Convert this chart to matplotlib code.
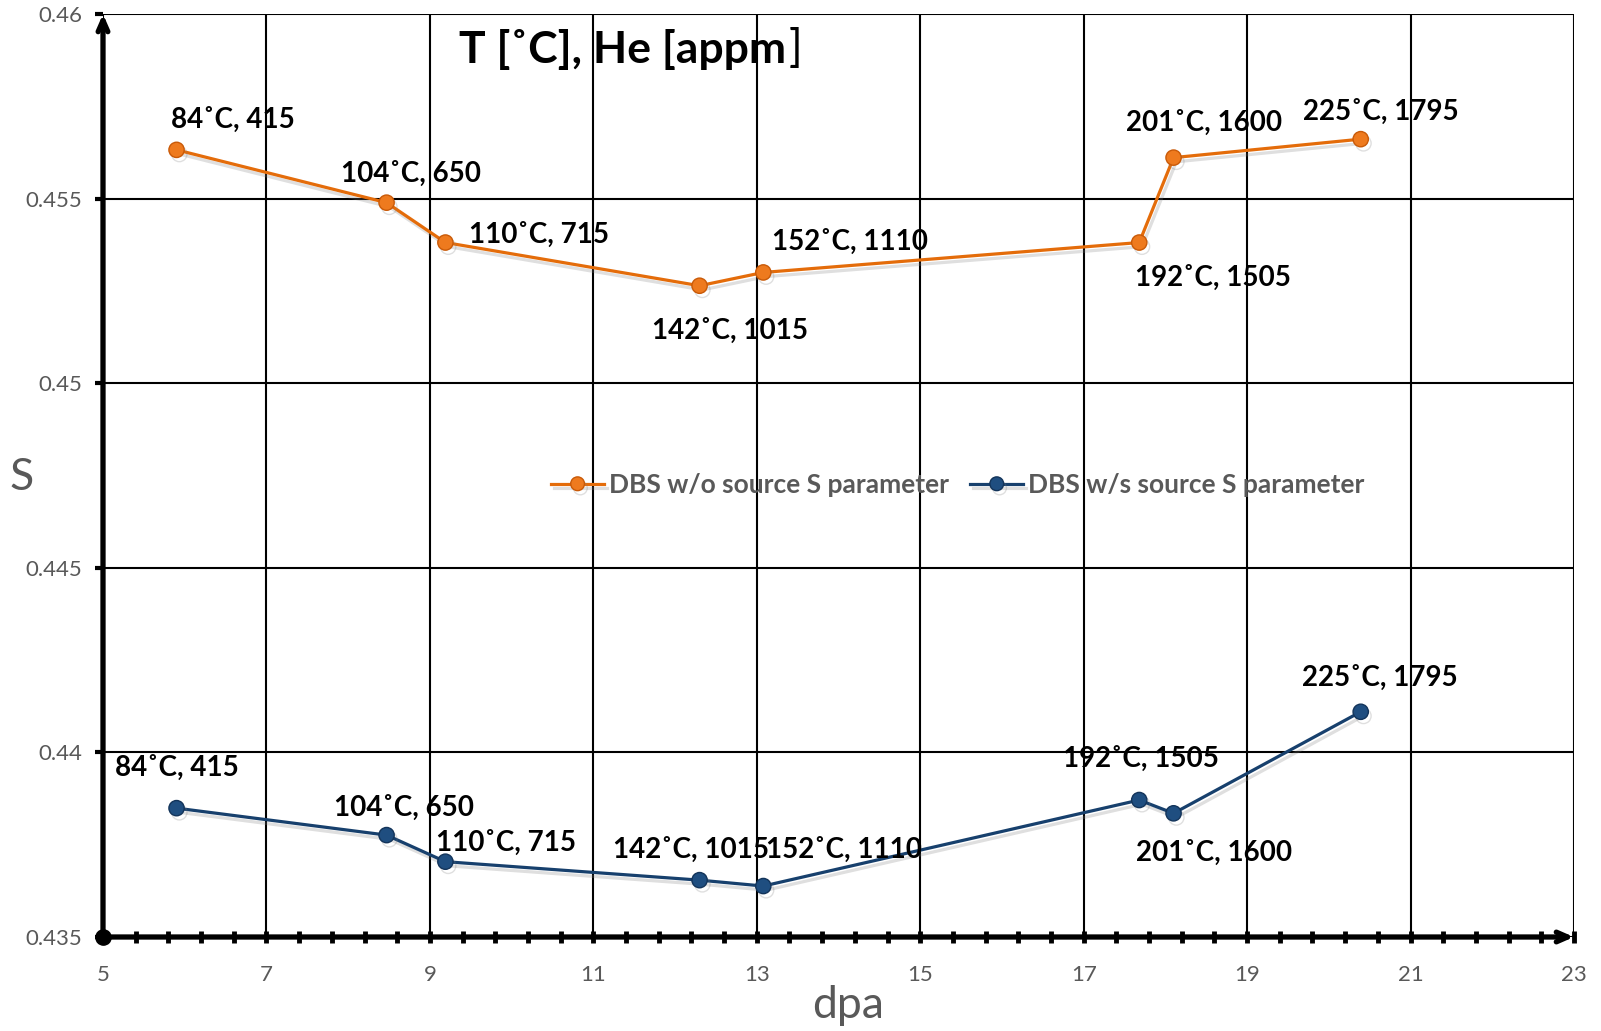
import matplotlib
matplotlib.use("Agg")
import matplotlib.pyplot as plt
import matplotlib.patheffects as pe
import numpy as np
from matplotlib.ticker import MultipleLocator, FixedLocator

plt.rcParams['font.family'] = ['Lato', 'DejaVu Sans']

# dpa for every sample
dpa = [5.9, 8.47, 9.19, 12.3, 13.08, 17.68, 18.1, 20.39]
# S parameter, measurement without source
s_without = [0.45632, 0.45489, 0.45381, 0.45264, 0.45300, 0.45381, 0.45611, 0.45661]
# S parameter, measurement with source
s_with = [0.43849, 0.43776, 0.43704, 0.43654, 0.43638, 0.43871, 0.43835, 0.44110]
point_labels = ["84˚C, 415", "104˚C, 650", "110˚C, 715", "142˚C, 1015",
                "152˚C, 1110", "192˚C, 1505", "201˚C, 1600", "225˚C, 1795"]
series_names = ["DBS w/o source S parameter", "DBS w/s source S parameter"]

# label offsets in pixels (layout only)
off_without = [(56, 30), (24, 29), (94, 8), (30, -45), (87, 31), (74, -35), (31, 35), (20, 27)]
off_with = [(0, 40), (17, 27), (61, 19), (-9, 30), (81, 36), (2, 41), (41, -39), (19, 34)]

ORANGE = "#E46C0A"
BLUE = "#17406D"
GRAY = "#595959"

fig = plt.figure(figsize=(16.01, 10.31), dpi=100)
ax = fig.add_axes([103 / 1601, 1 - 937 / 1031, (1574 - 103) / 1601, (937 - 14) / 1031])

ax.set_xlim(5, 23)
ax.set_ylim(0.435, 0.46)
ax.xaxis.set_major_locator(FixedLocator(np.arange(5, 23.01, 2)))
ax.xaxis.set_minor_locator(FixedLocator(np.arange(5, 23.01, 0.4)))
ax.yaxis.set_major_locator(MultipleLocator(0.005))
ax.yaxis.set_major_formatter(plt.FuncFormatter(lambda v, p: ("%.3f" % v).rstrip("0")))
ax.xaxis.set_major_formatter(plt.FuncFormatter(lambda v, p: "%d" % round(v)))

ax.grid(True, which="major", color="black", lw=1.5)
ax.set_axisbelow(True)
for sp in ax.spines.values():
    sp.set_visible(False)

ax.tick_params(axis="y", direction="out", length=6, width=3, color="black",
               labelsize=16, labelcolor=GRAY, pad=9)
ax.tick_params(axis="x", which="both", direction="inout", length=9, width=3.5,
               color="black", labelsize=16, labelcolor=GRAY, pad=16)

# axis arrows
ax.annotate("", xy=(5, 0.46), xytext=(5, 0.435), xycoords="data",
            arrowprops=dict(arrowstyle="->,head_length=0.8,head_width=0.35", lw=3.8,
                            color="black", shrinkA=0, shrinkB=0), annotation_clip=False)
ax.annotate("", xy=(23, 0.435), xytext=(5, 0.435), xycoords="data",
            arrowprops=dict(arrowstyle="->,head_length=0.8,head_width=0.35", lw=3.8,
                            color="black", shrinkA=0, shrinkB=0), annotation_clip=False)
ax.plot([5], [0.435], "o", color="black", ms=11, clip_on=False, zorder=5)

shadow = [pe.SimpleLineShadow(offset=(2, -3), shadow_color="gray", alpha=0.25), pe.Normal()]
ax.plot(dpa, s_without, "-o", color=ORANGE, lw=2.3, ms=11, mfc="#EE7A1E", mec="#C95A08",
        mew=1, label=series_names[0], path_effects=shadow, zorder=4)
ax.plot(dpa, s_with, "-o", color=BLUE, lw=2.3, ms=11, mfc="#1F4E80", mec="#13345A",
        mew=1, label=series_names[1], path_effects=shadow, zorder=4)

for x, y, t, o in zip(dpa, s_without, point_labels, off_without):
    ax.annotate(t, (x, y), xytext=o, textcoords="offset pixels", ha="center",
                va="center", fontsize=20, fontweight="bold", color="black", zorder=6)
for x, y, t, o in zip(dpa, s_with, point_labels, off_with):
    ax.annotate(t, (x, y), xytext=o, textcoords="offset pixels", ha="center",
                va="center", fontsize=20, fontweight="bold", color="black", zorder=6)

leg = fig.legend(loc="center", bbox_to_anchor=(958 / 1601, 1 - 485 / 1031), ncol=2,
                 frameon=False, fontsize=19, handlelength=2.0, handletextpad=0.2,
                 columnspacing=0.8, markerscale=0.9)
for txt in leg.get_texts():
    txt.set_color(GRAY)
    txt.set_fontweight("bold")

t = fig.text(459 / 1601, 1 - 49 / 1031, "T [˚C], He [appm", fontsize=32,
             fontweight="bold", ha="left", va="center")
ax.annotate("]", xy=(1, 0), xycoords=t, xytext=(2, 0), textcoords="offset pixels",
            fontsize=32, ha="left", va="bottom")

fig.text(22 / 1601, 1 - 478 / 1031, "S", fontsize=32, color=GRAY, ha="center", va="center")
fig.text(848 / 1601, 1 - 1005 / 1031, "dpa", fontsize=32, color=GRAY, ha="center", va="center")

fig.savefig("out.png", dpi=100)
